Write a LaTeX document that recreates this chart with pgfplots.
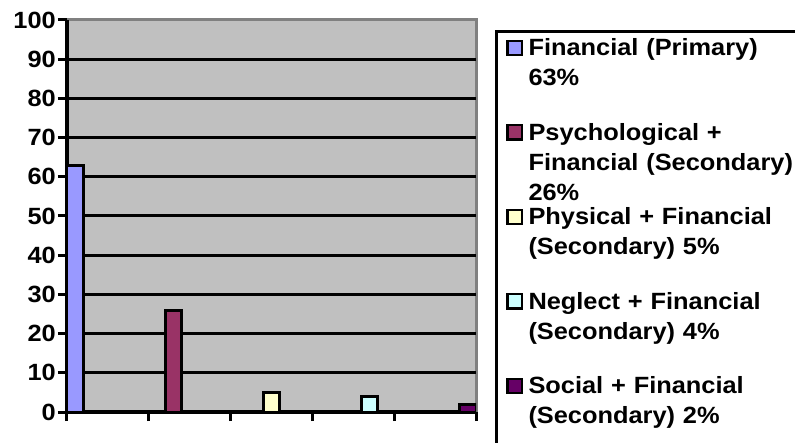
\documentclass[border=0pt]{standalone}
\usepackage{fontspec}
\setmainfont{Liberation Sans}[FakeStretch=1.08]
\usepackage{pgfplots}
\pgfplotsset{compat=1.18}
\definecolor{c1}{HTML}{9999FF}
\definecolor{c2}{HTML}{993366}
\definecolor{c3}{HTML}{FFFFCC}
\definecolor{c4}{HTML}{CCFFFF}
\definecolor{c5}{HTML}{660066}
\definecolor{bggray}{HTML}{C0C0C0}
\definecolor{framegray}{HTML}{808080}
\pgfplotsset{
  mybar/.style={ybar, bar width=0.2, bar shift=0pt, draw=black, line width=3pt,
    legend image code/.code={\path[draw=none,fill=none] (0pt,0pt) -- (30pt,0pt);
      \draw[##1, draw=black, line width=2.2pt] (11pt,0.8pt) rectangle (25.5pt,15pt);}},
}
\begin{document}
\begin{tikzpicture}
\begin{axis}[
  scale only axis, width=409pt, height=392pt,
  xmin=0, xmax=5, ymin=0, ymax=100,
  xtick={0,1,2,3,4,5}, xticklabels={},
  ytick={0,10,...,100},
  yticklabel={\pgfmathprintnumber{\tick}},
  minor ytick={10,20,...,90}, yminorgrids, minor tick length=0pt,
  minor grid style={draw=black, line width=3pt},
  axis background/.style={fill=bggray, draw=framegray, line width=3pt},
  axis x line*=bottom, axis y line*=left,
  axis line style={draw=black, line width=4pt},
  tick style={draw=black, line width=3pt},
  tick align=outside, major tick length=9pt,
  /pgf/number format/assume math mode=true,
  tick label style={font=\bfseries\fontsize{23.5}{29}\selectfont},
  yticklabel style={inner xsep=2pt},
  legend style={at={(1,1)}, anchor=north west, xshift=19pt, yshift=-10pt,
    draw=black, line width=3pt, inner xsep=0pt, inner ysep=0pt, fill=white,
    cells={anchor=base west},
    nodes={inner sep=2pt, text width=290pt, align=left, text height=22.3pt, text depth=58.2pt,
      font=\bfseries\fontsize{23.5}{30}\selectfont}},
]
\addplot[mybar, fill=c1] coordinates {(0.1,63)};
\addlegendentry{Financial (Primary)\\63\%}
\addplot[mybar, fill=c2] coordinates {(1.3,26)};
\addlegendentry{Psychological +\\Financial (Secondary)\\26\%}
\addplot[mybar, fill=c3] coordinates {(2.5,5)};
\addlegendentry{Physical + Financial\\(Secondary) 5\%}
\addplot[mybar, fill=c4] coordinates {(3.7,4)};
\addlegendentry{Neglect + Financial\\(Secondary) 4\%}
\addplot[mybar, fill=c5] coordinates {(4.9,2)};
\addlegendentry{Social + Financial\\(Secondary) 2\%}
\end{axis}
\pgfresetboundingbox
\useasboundingbox (-67pt,-30pt) rectangle (728pt,412pt);
\end{tikzpicture}
\end{document}
